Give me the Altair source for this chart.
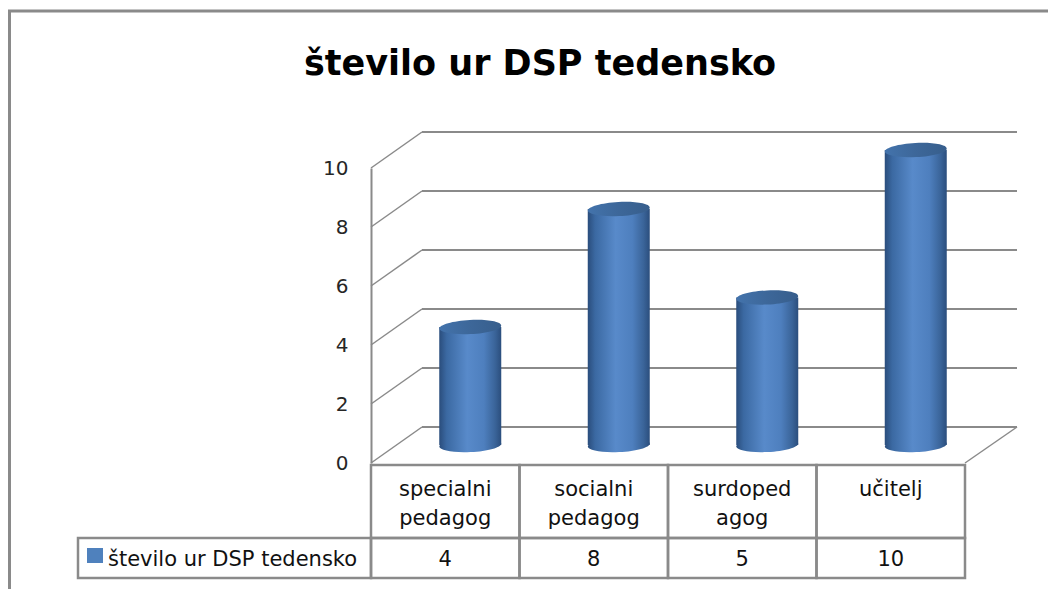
import altair as alt
import pandas as pd

# ---- data ----
categories = ["specialni pedagog", "socialni pedagog", "surdopedagog", "učitelj"]
label_line1 = ["specialni", "socialni", "surdoped", "učitelj"]
label_line2 = ["pedagog", "pedagog", "agog", ""]
values = [4, 8, 5, 10]
series_name = "število ur DSP tedensko"
title_text = "število ur DSP tedensko"
y_ticks = [0, 2, 4, 6, 8, 10]

df = pd.DataFrame({
    "cat": categories,
    "l1": label_line1,
    "l2": label_line2,
    "value": values,
    "vtxt": [str(v) for v in values],
    "pos": list(range(len(categories))),
})
df["pos_c"] = df["pos"] + 0.5
df["pos_r"] = df["pos"] + 1
grid = pd.DataFrame({"v": y_ticks})

# ---- styles ----
FONT = "DejaVu Sans"
GRID = "#8a8a8a"
DX, DY = 51, -36          # depth offset of back wall
MX, MY = 25, -18          # mid depth (cylinder position)
CW = 62                   # cylinder width
W, H = 594, 295

XS = alt.Scale(domain=[0, len(categories)], nice=False, zero=False)
YS = alt.Scale(domain=[0, 10], nice=False, zero=True)
YAX = alt.Axis(values=y_ticks, grid=False, ticks=False, domain=True,
               domainColor=GRID, domainWidth=2, labelFont=FONT,
               labelFontSize=20, labelColor="#262626", labelPadding=23,
               title=None)

body_grad = {"gradient": "linear", "x1": 0, "x2": 1, "y1": 0, "y2": 0,
             "stops": [
                 {"offset": 0.0, "color": "#2A4D7C"},
                 {"offset": 0.12, "color": "#3B69A2"},
                 {"offset": 0.45, "color": "#588ACA"},
                 {"offset": 0.72, "color": "#4E7FBE"},
                 {"offset": 0.9, "color": "#3A6499"},
                 {"offset": 1.0, "color": "#2B4E7D"}]}
top_grad = {"gradient": "linear", "x1": 0, "x2": 1, "y1": 0, "y2": 0,
            "stops": [
                {"offset": 0.0, "color": "#4373AC"},
                {"offset": 0.5, "color": "#3D6799"},
                {"offset": 1.0, "color": "#375E8C"}]}
ELLIPSE = "M -1 0 A 1 0.23 0 1 1 1 0 A 1 0.23 0 1 1 -1 0 Z"

base = alt.Chart(df)
gbase = alt.Chart(grid)

# outer border (left and top edges of the chart frame)
border_left = alt.Chart(df.head(1)).mark_rule(color=GRID, strokeWidth=3).encode(
    x=alt.value(-361.5), x2=alt.value(-361.5), y=alt.value(-157), y2=alt.value(440))
border_top = alt.Chart(df.head(1)).mark_rule(color=GRID, strokeWidth=3).encode(
    x=alt.value(-363), x2=alt.value(700), y=alt.value(-157), y2=alt.value(-157))

# back wall gridlines
back_lines = gbase.mark_rule(color=GRID, strokeWidth=2,
                             xOffset=DX, x2Offset=DX + 1, yOffset=DY, y2Offset=DY).encode(
    x=alt.X(datum=0, scale=XS, axis=None), x2=alt.X2(datum=len(categories)),
    y=alt.Y("v:Q", scale=YS, axis=YAX), y2=alt.Y2("v:Q"))
# side wall diagonals
diag = gbase.mark_rule(color=GRID, strokeWidth=1.5, x2Offset=DX, y2Offset=DY).encode(
    x=alt.X(datum=0, scale=XS, axis=None), x2=alt.X2(datum=0),
    y=alt.Y("v:Q", scale=YS, axis=YAX), y2=alt.Y2("v:Q"))
# floor right diagonal
floor_r = alt.Chart(df.head(1)).mark_rule(color=GRID, strokeWidth=1.5,
                                           x2Offset=DX + 1, y2Offset=DY).encode(
    x=alt.X(datum=len(categories), scale=XS, axis=None), x2=alt.X2(datum=len(categories)),
    y=alt.Y(datum=0, scale=YS, axis=YAX), y2=alt.Y2(datum=0))

# cylinders
bottom_ell = base.mark_point(shape=ELLIPSE, size=CW * CW, filled=True, fill=body_grad,
                             opacity=1, strokeWidth=0, angle=357,
                             xOffset=MX, yOffset=MY).encode(
    x=alt.X("pos_c:Q", scale=XS, axis=None),
    y=alt.Y(datum=0, scale=YS, axis=YAX))
bodies = base.mark_rect(fill=body_grad, xOffset=MX - CW / 2, x2Offset=MX + CW / 2,
                        yOffset=MY, y2Offset=MY).encode(
    x=alt.X("pos_c:Q", scale=XS, axis=None), x2=alt.X2("pos_c:Q"),
    y=alt.Y("value:Q", scale=YS, axis=YAX), y2=alt.Y2(datum=0))
top_ell = base.mark_point(shape=ELLIPSE, size=CW * CW, filled=True, fill=top_grad,
                          opacity=1, strokeWidth=0, angle=357,
                          xOffset=MX, yOffset=MY).encode(
    x=alt.X("pos_c:Q", scale=XS, axis=None),
    y=alt.Y("value:Q", scale=YS, axis=YAX))

# data table
TB_TOP, TB_MID, TB_BOT = 297, 370, 410
cat_cells = base.mark_rect(fill="white", fillOpacity=0, stroke=GRID, strokeWidth=2.5).encode(
    x=alt.X("pos:Q", scale=XS, axis=None), x2=alt.X2("pos_r:Q"),
    y=alt.value(TB_TOP), y2=alt.value(TB_MID))
val_cells = base.mark_rect(fill="white", fillOpacity=0, stroke=GRID, strokeWidth=2.5).encode(
    x=alt.X("pos:Q", scale=XS, axis=None), x2=alt.X2("pos_r:Q"),
    y=alt.value(TB_MID), y2=alt.value(TB_BOT))
leg_cell = alt.Chart(df.head(1)).mark_rect(fill="white", fillOpacity=0, stroke=GRID,
                                           strokeWidth=2.5).encode(
    x=alt.value(-293), x2=alt.value(0), y=alt.value(TB_MID), y2=alt.value(TB_BOT))
leg_swatch = alt.Chart(df.head(1)).mark_rect(fill="#4F81BD").encode(
    x=alt.value(-284), x2=alt.value(-268), y=alt.value(380), y2=alt.value(395))
leg_text = alt.Chart(pd.DataFrame({"s": [series_name]})).mark_text(
    font=FONT, fontSize=21, align="left", baseline="alphabetic", color="#111").encode(
    x=alt.value(-263), y=alt.value(398), text="s:N")

txt = dict(font=FONT, fontSize=21, align="center", baseline="alphabetic", color="#111")
cat_l1 = base.mark_text(**txt).encode(
    x=alt.X("pos_c:Q", scale=XS, axis=None), y=alt.value(328), text="l1:N")
cat_l2 = base.mark_text(**txt).encode(
    x=alt.X("pos_c:Q", scale=XS, axis=None), y=alt.value(357), text="l2:N")
val_txt = base.mark_text(**txt).encode(
    x=alt.X("pos_c:Q", scale=XS, axis=None), y=alt.value(398), text="vtxt:N")

title = alt.Chart(pd.DataFrame({"t": [title_text]})).mark_text(
    font=FONT, fontSize=35, fontWeight="bold", align="center", baseline="alphabetic",
    color="#000").encode(x=alt.value(169), y=alt.value(-93), text="t:N")

chart = alt.layer(
    border_left, border_top, back_lines, diag, floor_r,
    bottom_ell, bodies, top_ell,
    cat_cells, val_cells, leg_cell, leg_swatch, leg_text,
    cat_l1, cat_l2, val_txt, title,
).properties(
    width=W, height=H,
    autosize=alt.AutoSizeParams(type="none"),
    padding={"left": 363, "top": 160, "right": 83, "bottom": 126},
    background="white",
).configure_view(stroke=None)

chart.save("out.html", embed_options={"renderer": "svg", "actions": False})
